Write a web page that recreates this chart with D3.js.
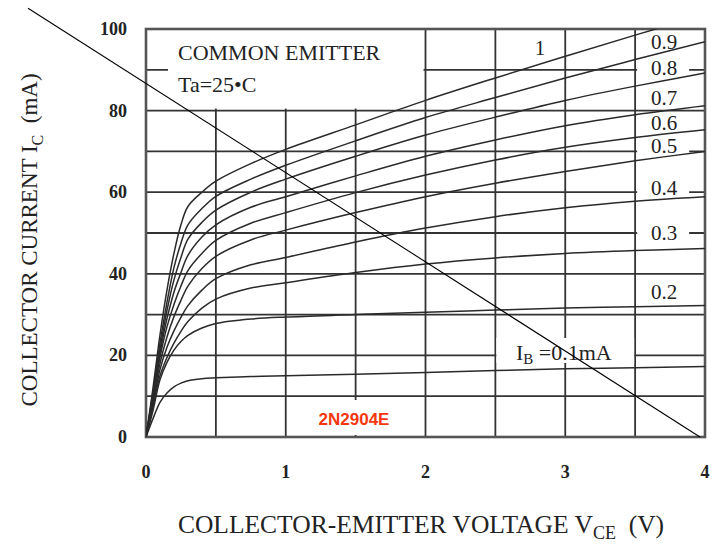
<!DOCTYPE html>
<html>
<head>
<meta charset="utf-8">
<script src="https://cdn.jsdelivr.net/npm/d3@7"></script>
<style>
  body { margin: 0; background: #fff; }
  svg text { font-family: "Liberation Serif", "Times New Roman", serif; fill: #222; }
</style>
</head>
<body>
<svg id="chart"></svg>
<script>
// Ic-Vce output characteristics, common emitter
const vce = [0, 0.05, 0.1, 0.15, 0.2, 0.25, 0.3, 0.4, 0.5, 0.75, 1, 1.5, 2, 2.5, 3, 3.5, 4];

const ib10 = [0, 12, 25, 36, 45, 52, 56.5, 60, 62.7, 67, 70.5, 76.5, 82.5, 88, 93.3, 98.5, 103.5];
const ib09 = [0, 11, 23, 33, 41.5, 47.5, 52, 56, 59, 63.2, 66.6, 72.6, 78.3, 83.2, 88, 92.5, 96.9];
const ib08 = [0, 10.5, 21.5, 31, 38.5, 44, 48.5, 52.6, 55.6, 60, 63.2, 68.8, 74, 78.4, 82.5, 86, 89.2];
const ib07 = [0, 10, 20.5, 29, 35.5, 40.3, 44.5, 49, 52, 56.3, 58.9, 64, 68.8, 72.8, 76.3, 79, 81.2];
const ib06 = [0, 9.5, 19.5, 27, 32.5, 37, 40.8, 45, 48.2, 52.4, 55, 59.9, 64.2, 67.9, 71, 73.4, 75.3];
const ib05 = [0, 9, 18, 24.5, 29.5, 33.5, 37, 41.3, 44.3, 48.3, 50.7, 55, 58.9, 62.2, 65.1, 67.7, 70];
const ib04 = [0, 8, 16.5, 22, 26, 29.3, 32.2, 36, 38.8, 42.2, 44, 47.8, 51.2, 54, 56.2, 57.8, 58.9];
const ib03 = [0, 7.5, 15, 19.5, 23, 25.9, 28.3, 31.6, 33.8, 36.5, 37.8, 40.3, 42.4, 43.9, 45, 45.7, 46.2];
const ib02 = [0, 6.5, 14, 18.3, 21.3, 23.4, 24.9, 26.7, 27.8, 28.9, 29.4, 30, 30.6, 31.1, 31.6, 31.9, 32.2];
const ib01 = [0, 4.5, 8.5, 10.8, 12.3, 13.2, 13.8, 14.3, 14.5, 14.8, 15, 15.4, 15.8, 16.3, 16.7, 17, 17.3];

const ibNames = ["1", "0.9", "0.8", "0.7", "0.6", "0.5", "0.4", "0.3", "0.2"];
const series = [ib10, ib09, ib08, ib07, ib06, ib05, ib04, ib03, ib02, ib01];

const xTicks = [0, 1, 2, 3, 4];
const yTicks = [0, 20, 40, 60, 80, 100];
const xGrid = [0.5, 1, 1.5, 2, 2.5, 3, 3.5];
const yGrid = [10, 20, 30, 40, 50, 60, 70, 80, 90];

// load line end points (V, mA)
const loadLine = [[-0.844, 105.1], [3.964, 0]];

// label layout (baseline, mA)
const labelY = [93.6, 95.1, 88.7, 81.4, 75.2, 69.6, 59.3, 48.3, 33.8];

const width = 716, height = 545;
const svg = d3.select("#chart").attr("width", width).attr("height", height);

const x = d3.scaleLinear().domain([0, 4]).range([146, 705]);
const y = d3.scaleLinear().domain([0, 100]).range([437, 29]);

const gridColor = "#333";

// grid
svg.append("g").selectAll("line").data(xGrid).enter().append("line")
    .attr("x1", d => x(d)).attr("x2", d => x(d))
    .attr("y1", y(0)).attr("y2", y(100))
    .attr("stroke", gridColor).attr("stroke-width", 1.8);

svg.append("g").selectAll("line").data(yGrid).enter().append("line")
    .attr("x1", x(0)).attr("x2", x(4))
    .attr("y1", d => y(d)).attr("y2", d => y(d))
    .attr("stroke", gridColor).attr("stroke-width", 1.8);

// white boxes over the grid
svg.append("rect").attr("x", 168).attr("y", y(100) + 1)
    .attr("width", x(2) - 2 - 168).attr("height", y(80) - y(100) - 3)
    .attr("fill", "#fff");

svg.append("rect").attr("x", 298).attr("y", 400).attr("width", 110).attr("height", 35)
    .attr("fill", "#fff");

svg.append("rect").attr("x", x(2.5) + 1).attr("y", 338)
    .attr("width", x(3.5) - x(2.5) - 2).attr("height", 25)
    .attr("fill", "#fff");

svg.append("g").selectAll("rect").data(labelY.slice(1)).enter().append("rect")
    .attr("x", x(3.5) + 2).attr("y", d => y(d) - 16)
    .attr("width", 52).attr("height", 19)
    .attr("fill", "#fff");

// border
svg.append("rect").attr("x", x(0)).attr("y", y(100))
    .attr("width", x(4) - x(0)).attr("height", y(0) - y(100))
    .attr("fill", "none").attr("stroke", "#555").attr("stroke-width", 2.6);

// curves
svg.append("clipPath").attr("id", "plot").append("rect")
    .attr("x", x(0)).attr("y", y(100)).attr("width", x(4) - x(0)).attr("height", y(0) - y(100));

const line = d3.line()
    .x(d => x(d[0]))
    .y(d => y(d[1]))
    .curve(d3.curveCatmullRom.alpha(0.5));

svg.append("g").attr("clip-path", "url(#plot)")
    .selectAll("path").data(series).enter().append("path")
    .attr("d", s => line(s.map((v, i) => [vce[i], v])))
    .attr("fill", "none")
    .attr("stroke", "#2a2a2a")
    .attr("stroke-width", 1.5);

// curve labels
svg.append("g").selectAll("text").data(ibNames).enter().append("text")
    .attr("x", (d, i) => i === 0 ? 540 : 664)
    .attr("y", (d, i) => y(labelY[i]))
    .attr("text-anchor", "middle")
    .attr("font-size", 21)
    .text(d => d);

const ibText = svg.append("text").attr("x", 516).attr("y", 360).attr("font-size", 22);
ibText.append("tspan").text("I");
ibText.append("tspan").attr("font-size", 15).attr("dy", 4).text("B");
ibText.append("tspan").attr("dy", -4).text(" =0.1mA");

// info box text
svg.append("text").attr("x", 178).attr("y", 60).attr("font-size", 22).text("COMMON EMITTER");
svg.append("text").attr("x", 178).attr("y", 92).attr("font-size", 22).text("Ta=25•C");

svg.append("text").attr("x", 354).attr("y", 425)
    .attr("text-anchor", "middle")
    .attr("font-size", 17).attr("font-weight", "bold")
    .style("font-family", "Liberation Sans, Arial, sans-serif")
    .style("fill", "#f5360f")
    .text("2N2904E");

// tick labels
svg.append("g").selectAll("text").data(xTicks).enter().append("text")
    .attr("x", d => x(d)).attr("y", 478)
    .attr("text-anchor", "middle").attr("font-size", 18).attr("font-weight", "bold")
    .text(d => d);

svg.append("g").selectAll("text").data(yTicks).enter().append("text")
    .attr("x", 127).attr("y", d => y(d) + 6)
    .attr("text-anchor", "end").attr("font-size", 18).attr("font-weight", "bold")
    .text(d => d);

// axis titles
const xt = svg.append("text").attr("x", 421).attr("y", 533)
    .attr("text-anchor", "middle").attr("font-size", 25.5);
xt.append("tspan").text("COLLECTOR-EMITTER VOLTAGE V");
xt.append("tspan").attr("font-size", 18).attr("dy", 6).text("CE");
xt.append("tspan").attr("dy", -6).text("\u00a0\u00a0(V)");

const yt = svg.append("text")
    .attr("transform", "translate(37,240) rotate(-90)")
    .attr("text-anchor", "middle").attr("font-size", 23);
yt.append("tspan").text("COLLECTOR CURRENT I");
yt.append("tspan").attr("font-size", 16).attr("dy", 6).text("C");
yt.append("tspan").attr("dy", -6).text("\u00a0\u00a0(mA)");

// load line
svg.append("path")
    .attr("d", d3.line().x(d => x(d[0])).y(d => y(d[1]))(loadLine))
    .attr("stroke", "#000").attr("stroke-width", 1.1).attr("fill", "none");
</script>
</body>
</html>
